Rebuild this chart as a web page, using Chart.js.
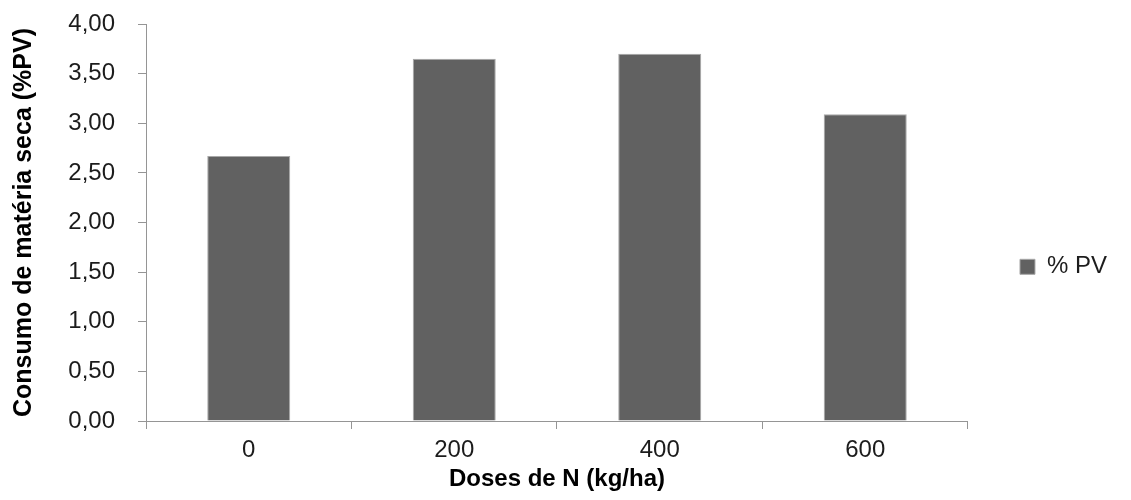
<!DOCTYPE html>
<html lang="pt">
  <head>
    <meta charset="UTF-8">
    <title>Consumo de matéria seca</title>
    <script src="https://cdn.jsdelivr.net/npm/chart.js"></script>
    <style>
      body { margin: 0; background: #fff; }
      #wrap { width: 1131px; height: 500px; }
    </style>
  </head>
  <body>
    <div id="wrap">
      <canvas id="barChart"></canvas>
    </div>
    <script>
      const doses = ['0', '200', '400', '600'];
      const pctPV = [2.67, 3.65, 3.70, 3.09];
      const seriesName = '% PV';
      const yTitle = 'Consumo de matéria seca (%PV)';
      const xTitle = 'Doses de N (kg/ha)';

      const fontFamily = '"Liberation Sans", Arial, sans-serif';
      const axisGray = '#959595';
      const textColor = '#1c1c1c';

      new Chart(document.getElementById('barChart'), {
        type: 'bar',
        data: {
          labels: doses,
          datasets: [{
            label: seriesName,
            data: pctPV,
            backgroundColor: '#616161',
            borderColor: '#a8a8a8',
            borderWidth: 1,
            barPercentage: 0.404,
            categoryPercentage: 1.0
          }]
        },
        options: {
          responsive: true,
          maintainAspectRatio: false,
          animation: false,
          layout: { padding: { top: 24, right: 14, bottom: 0, left: 0 } },
          plugins: {
            tooltip: { enabled: false },
            legend: {
              position: 'right',
              // blank title just pushes the single entry down a little
              title: {
                display: true,
                text: ' ',
                font: { size: 8 },
                padding: 0
              },
              labels: {
                color: textColor,
                font: { family: fontFamily, size: 24 },
                boxWidth: 15,
                boxHeight: 15,
                padding: 52
              }
            }
          },
          scales: {
            x: {
              afterFit: s => { s.height = 79; },
              grid: {
                display: true,
                drawOnChartArea: false,
                offset: true,
                color: axisGray,
                tickLength: 8
              },
              border: { color: axisGray, width: 1 },
              ticks: {
                color: textColor,
                font: { family: fontFamily, size: 24 },
                padding: 7
              },
              title: {
                display: true,
                text: xTitle,
                color: '#000',
                font: { family: fontFamily, size: 24, weight: 'bold' },
                padding: { top: 0, bottom: 6 }
              }
            },
            y: {
              min: 0,
              max: 4,
              afterFit: s => {
                s.width = 146;
                s.paddingTop = 0;
                s.paddingBottom = 0;
              },
              grid: {
                display: true,
                drawOnChartArea: false,
                color: axisGray,
                tickLength: 8
              },
              border: { color: axisGray, width: 1 },
              ticks: {
                stepSize: 0.5,
                color: textColor,
                font: { family: fontFamily, size: 24 },
                padding: 23,
                callback: v => v.toFixed(2).replace('.', ',')
              },
              title: {
                display: true,
                text: yTitle,
                color: '#000',
                font: { family: fontFamily, size: 25, weight: 'bold' },
                padding: { top: 9, bottom: 0 }
              }
            }
          }
        }
      });
    </script>
  </body>
</html>
